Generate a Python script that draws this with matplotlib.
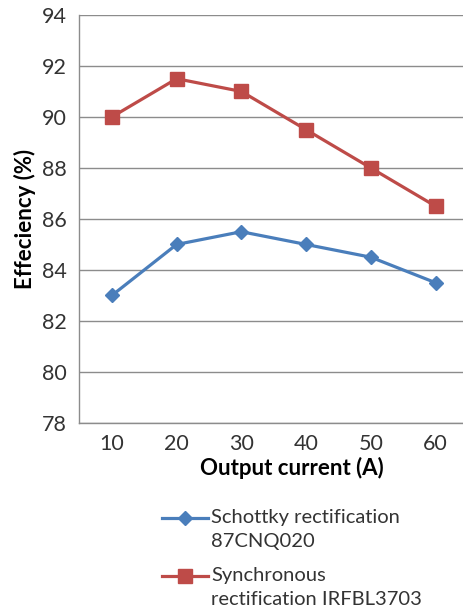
import matplotlib
matplotlib.use("Agg")
import matplotlib.pyplot as plt
from matplotlib.lines import Line2D
from matplotlib.legend_handler import HandlerLine2D

# data
currents = ["10", "20", "30", "40", "50", "60"]
schottky = [83, 85, 85.5, 85, 84.5, 83.5]
synchronous = [90, 91.5, 91, 89.5, 88, 86.5]
yticks = [78, 80, 82, 84, 86, 88, 90, 92, 94]


class FirstLineHandler(HandlerLine2D):
    # put the legend sample next to the first line of a two-line label
    def create_artists(self, legend, orig_handle, xdescent, ydescent,
                       width, height, fontsize, trans):
        return super().create_artists(legend, orig_handle, xdescent, ydescent - 17,
                                      width, height, fontsize, trans)


plt.rcParams["font.family"] = ["Lato", "DejaVu Sans"]

fig = plt.figure(figsize=(4.63, 6.10), dpi=100)
ax = fig.add_axes([0.1717, 0.3066, 0.839, 0.6689])

x = list(range(len(currents)))
ax.plot(x, schottky, color="#4A7EBB", lw=2.3, marker="D", ms=7.5,
        label="Schottky rectification\n87CNQ020")
ax.plot(x, synchronous, color="#BE4B48", lw=2.3, marker="s", ms=9.5,
        label="Synchronous\nrectification IRFBL3703")

ax.set_xlim(-0.5, len(currents) - 0.5)
ax.set_ylim(78, 94)
ax.set_yticks(yticks)
ax.set_xticks(x)
ax.set_xticklabels(currents)
ax.tick_params(length=0, labelsize=15.5, colors="#333333")
ax.tick_params(axis="y", pad=9)
ax.tick_params(axis="x", pad=8)
ax.grid(axis="y", color="#8c8c8c", lw=1)
ax.set_axisbelow(True)
for s in ["top", "right"]:
    ax.spines[s].set_visible(False)
for s in ["left", "bottom"]:
    ax.spines[s].set_color("#8c8c8c")
    ax.spines[s].set_linewidth(1)

ax.set_ylabel("Effeciency (%)", fontsize=16, fontweight="bold", va="center")
ax.yaxis.set_label_coords(-0.140, 0.5)
ax.set_xlabel("Output current (A)", fontsize=16, fontweight="bold", va="center")
ax.xaxis.set_label_coords(0.547, -0.110)

leg = ax.legend(loc="upper left", bbox_to_anchor=(0.35, 0.165), bbox_transform=fig.transFigure,
                frameon=False, fontsize=14.5, handlelength=2.3, handletextpad=0.15,
                labelspacing=0.85, borderpad=0, borderaxespad=0, labelcolor="#333333",
                handler_map={Line2D: FirstLineHandler()})
for t in leg.get_texts():
    t.set_linespacing(1.5)

fig.savefig("out.png", dpi=100)
